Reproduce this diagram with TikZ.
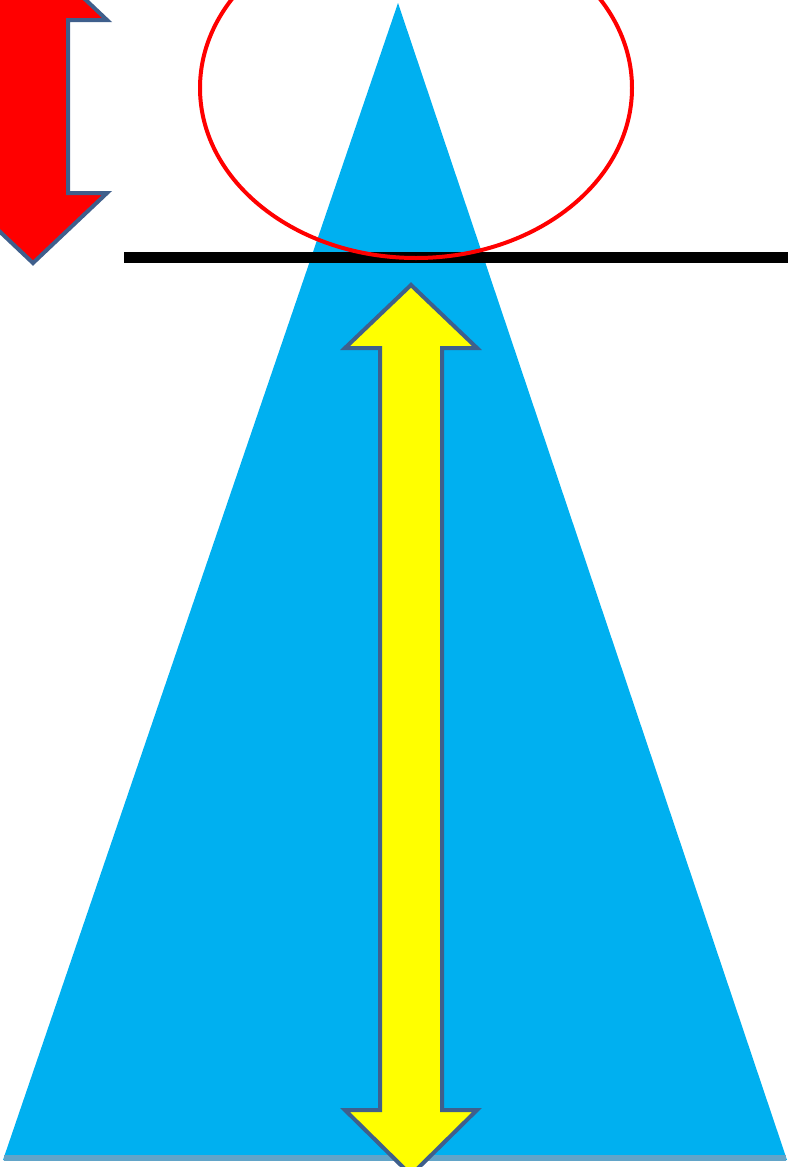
\documentclass[tikz,border=0pt]{standalone}
\definecolor{coneblue}{HTML}{00B0F0}
\definecolor{baseedge}{HTML}{62A4C8}
\definecolor{arrowedge}{HTML}{3F5F8C}
\definecolor{arrowyellow}{HTML}{FFFF00}
\definecolor{arrowred}{HTML}{FF0000}
\tikzset{
  fatarrow/.style={draw=arrowedge, line width=0.08cm, line join=miter},
}
\begin{document}
\begin{tikzpicture}[x=0.02cm, y=-0.02cm]
\useasboundingbox (0,0) rectangle (788,1167);
\clip (0,0) rectangle (788,1167);
% cone
\fill[coneblue] (398,3) -- (787,1160) -- (3,1160) -- cycle;
\draw[baseedge, line width=0.12cm] (4,1158) -- (786,1158);
% cut line
\draw[black, line width=0.22cm] (124,257) -- (790,257);
% red ring round the tip
\draw[arrowred, line width=0.08cm] (416,88) ellipse [x radius=216, y radius=170];
% red double arrow, top left
\filldraw[fatarrow, fill=arrowred] (33,-50) -- (107,20) -- (68,20) -- (68,193) -- (107,193)
  -- (33,263) -- (-41,193) -- (-2,193) -- (-2,20) -- (-41,20) -- cycle;
% yellow double arrow
\filldraw[fatarrow, fill=arrowyellow] (411,285) -- (477,348) -- (442,348) -- (442,1110) -- (477,1110)
  -- (411,1175) -- (345,1110) -- (380,1110) -- (380,348) -- (345,348) -- cycle;
\end{tikzpicture}
\end{document}
